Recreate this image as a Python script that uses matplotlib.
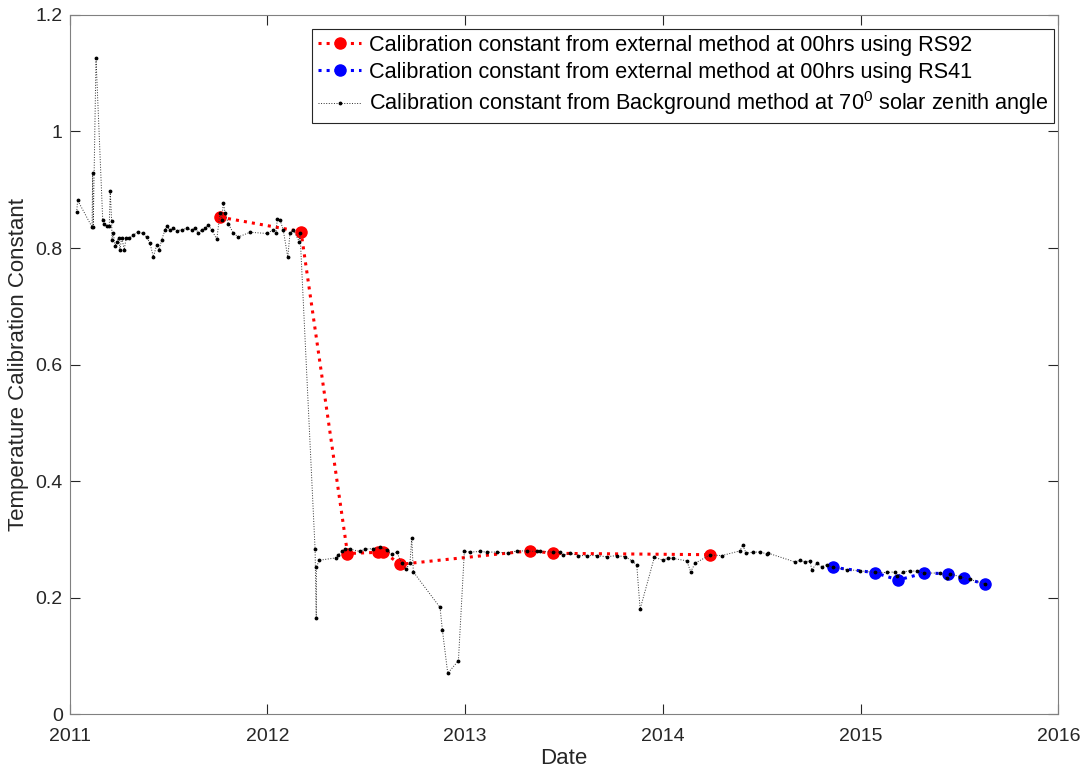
import matplotlib
matplotlib.use("Agg")
import matplotlib.pyplot as plt
from matplotlib.ticker import FuncFormatter

plt.rcParams['font.family'] = ['Liberation Sans', 'DejaVu Sans']
plt.rcParams['mathtext.fontset'] = 'custom'
plt.rcParams['mathtext.rm'] = 'Liberation Sans'
plt.rcParams['mathtext.it'] = 'Liberation Sans'

# Red series: external method, RS92 (decimal year, constant)
rs92_year = [2011.760, 2012.170, 2012.405, 2012.557, 2012.585, 2012.671,
             2013.330, 2013.445, 2014.240]
rs92_val = [0.853, 0.828, 0.2755, 0.2776, 0.2786, 0.257, 0.2803, 0.2759, 0.2735]

# Blue series: external method, RS41
rs41_year = [2014.859, 2015.073, 2015.190, 2015.323, 2015.441, 2015.522, 2015.631]
rs41_val = [0.2518, 0.2426, 0.230, 0.2421, 0.2409, 0.233, 0.2232]

# Black series: background method
bg_year = [2011.035, 2011.040, 2011.113, 2011.116, 2011.119, 2011.133, 2011.167,
           2011.172, 2011.187, 2011.200, 2011.205, 2011.212, 2011.214, 2011.221,
           2011.229, 2011.238, 2011.248, 2011.254, 2011.263, 2011.276, 2011.285,
           2011.301, 2011.322, 2011.344, 2011.369, 2011.389, 2011.406, 2011.423,
           2011.440, 2011.453, 2011.465, 2011.482, 2011.491, 2011.507, 2011.524,
           2011.541, 2011.567, 2011.592, 2011.617, 2011.634, 2011.650, 2011.668,
           2011.684, 2011.701, 2011.718, 2011.744, 2011.760, 2011.769, 2011.777,
           2011.786, 2011.802, 2011.828, 2011.853, 2011.912, 2011.996, 2012.030,
           2012.043, 2012.050, 2012.064, 2012.080, 2012.103, 2012.114, 2012.131,
           2012.161, 2012.165, 2012.241, 2012.247, 2012.248, 2012.263, 2012.345,
           2012.359, 2012.376, 2012.393, 2012.418, 2012.468, 2012.494, 2012.536,
           2012.570, 2012.603, 2012.629, 2012.654, 2012.679, 2012.701, 2012.721,
           2012.730, 2012.738, 2012.873, 2012.885, 2012.912, 2012.966, 2012.996,
           2013.025, 2013.075, 2013.109, 2013.160, 2013.218, 2013.261, 2013.312,
           2013.362, 2013.379, 2013.446, 2013.480, 2013.497, 2013.531, 2013.573,
           2013.615, 2013.666, 2013.716, 2013.767, 2013.809, 2013.843, 2013.868,
           2013.885, 2013.957, 2014.003, 2014.028, 2014.053, 2014.121, 2014.141,
           2014.163, 2014.239, 2014.298, 2014.390, 2014.404, 2014.421, 2014.458,
           2014.492, 2014.526, 2014.534, 2014.669, 2014.694, 2014.719, 2014.745,
           2014.753, 2014.778, 2014.804, 2014.829, 2014.859, 2014.930, 2014.997,
           2015.073, 2015.133, 2015.175, 2015.183, 2015.217, 2015.251, 2015.284,
           2015.323, 2015.402, 2015.436, 2015.453, 2015.504, 2015.554, 2015.631]
bg_val = [0.861, 0.882, 0.836, 0.928, 0.836, 1.126, 0.848,
          0.842, 0.838, 0.837, 0.897, 0.847, 0.814, 0.825,
          0.803, 0.811, 0.818, 0.797, 0.818, 0.797, 0.817,
          0.817, 0.822, 0.828, 0.825, 0.819, 0.808, 0.785,
          0.805, 0.797, 0.814, 0.831, 0.837, 0.831, 0.834,
          0.830, 0.831, 0.834, 0.831, 0.835, 0.826, 0.831,
          0.834, 0.839, 0.831, 0.815, 0.860, 0.848, 0.878,
          0.860, 0.842, 0.825, 0.819, 0.827, 0.825, 0.831,
          0.825, 0.850, 0.848, 0.831, 0.784, 0.825, 0.831,
          0.811, 0.825, 0.283, 0.164, 0.253, 0.264, 0.268,
          0.273, 0.279, 0.283, 0.283, 0.279, 0.283, 0.284,
          0.286, 0.282, 0.274, 0.278, 0.259, 0.249, 0.259,
          0.302, 0.244, 0.183, 0.144, 0.070, 0.0915, 0.279,
          0.278, 0.279, 0.278, 0.278, 0.276, 0.280, 0.280,
          0.279, 0.279, 0.278, 0.278, 0.273, 0.276, 0.272,
          0.272, 0.272, 0.270, 0.272, 0.270, 0.263, 0.256,
          0.180, 0.269, 0.264, 0.268, 0.267, 0.263, 0.244,
          0.259, 0.273, 0.272, 0.280, 0.290, 0.276, 0.278,
          0.278, 0.275, 0.276, 0.261, 0.264, 0.261, 0.263,
          0.247, 0.259, 0.253, 0.256, 0.252, 0.248, 0.246,
          0.243, 0.243, 0.244, 0.237, 0.244, 0.246, 0.245,
          0.242, 0.242, 0.233, 0.240, 0.236, 0.231, 0.223]

x_ticks = [2011, 2012, 2013, 2014, 2015, 2016]
y_ticks = [0, 0.2, 0.4, 0.6, 0.8, 1.0, 1.2]

fig = plt.figure(figsize=(10.91, 7.69), dpi=100)
ax = fig.add_axes([0.0639, 0.0715, 0.9061, 0.909])

ax.plot(rs92_year, rs92_val, color='red', linestyle=':', linewidth=2.2,
        marker='o', markersize=8, markerfacecolor='red', markeredgecolor='red',
        label='Calibration constant from external method at 00hrs using RS92', zorder=3)
ax.plot(rs41_year, rs41_val, color='blue', linestyle=':', linewidth=2.2,
        marker='o', markersize=8, markerfacecolor='blue', markeredgecolor='blue',
        label='Calibration constant from external method at 00hrs using RS41', zorder=3)
ax.plot(bg_year, bg_val, color='#303030', linestyle=':', linewidth=0.7,
        marker='.', markersize=3.5, markerfacecolor='black', markeredgecolor='black',
        label='Calibration constant from Background method at 70$^{0}$ solar zenith angle',
        zorder=4)

ax.set_xlim(2011, 2016)
ax.set_ylim(0, 1.2)
ax.set_xticks(x_ticks)
ax.set_yticks(y_ticks)
ax.xaxis.set_major_formatter(FuncFormatter(lambda v, p: '%d' % round(v)))
ax.yaxis.set_major_formatter(FuncFormatter(lambda v, p: '%g' % round(v, 1)))
ax.tick_params(direction='in', length=7, width=0.8, colors='#262626',
               labelsize=14, top=True, right=True)
ax.tick_params(axis='x', pad=10)
ax.tick_params(axis='y', pad=5)
for s in ax.spines.values():
    s.set_color('#808080')
    s.set_linewidth(0.8)

ax.set_xlabel('Date', fontsize=16, color='#262626', labelpad=2)
ax.set_ylabel('Temperature Calibration Constant', fontsize=16, color='#262626', labelpad=5)

leg = ax.legend(loc='upper right', fontsize=15.6, numpoints=1, fancybox=False,
                framealpha=1, edgecolor='#262626', handlelength=2.0,
                handletextpad=0.35, borderpad=0.25, labelspacing=0.3,
                borderaxespad=0.2, bbox_to_anchor=(1.0, 0.986))
leg.get_frame().set_linewidth(0.8)

fig.savefig('out.png', dpi=100)
